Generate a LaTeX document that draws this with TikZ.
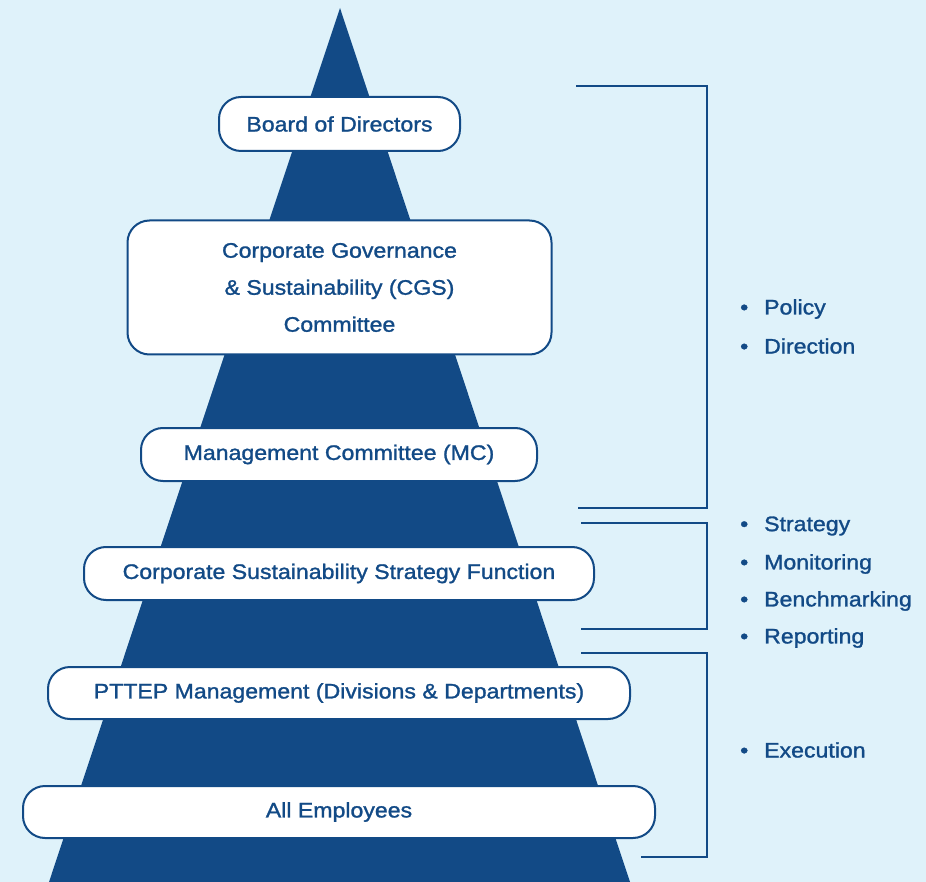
\documentclass[tikz,border=0pt]{standalone}
\usepackage{fontspec}
\setmainfont{Liberation Sans}[FakeStretch=1.1,FakeBold=1.3]
\definecolor{bg}{HTML}{DFF2FA}
\definecolor{navy}{HTML}{124A86}
\begin{document}
\begin{tikzpicture}[x=1pt,y=-1pt,
  lvl/.style={draw=navy,line width=2pt,fill=white,rounded corners=22pt,text=navy,font=\fontsize{21}{37}\selectfont,align=center,inner sep=0pt},
  brk/.style={draw=navy,line width=1.6pt},
  bul/.style={anchor=west,text=navy,font=\fontsize{21}{37}\selectfont,inner sep=0pt,align=left}]
\fill[bg] (0,0) rectangle (926,882);
\useasboundingbox (0,0) rectangle (926,882);
\fill[navy] (340,8) -- (630,882) -- (49,882) -- cycle;
\node[lvl,minimum width=241pt,minimum height=54pt] (bod) at (339.5,124) {Board of Directors};
\node[lvl,minimum width=424pt,minimum height=134pt] (cgs) at (339.5,287.5) {Corporate Governance\\\& Sustainability (CGS)\\Committee};
\node[lvl,minimum width=396pt,minimum height=53pt] (mc) at (339,454.5) {Management Committee (MC)};
\node[lvl,minimum width=510pt,minimum height=53pt] (cssf) at (339,573.5) {Corporate Sustainability Strategy Function};
\node[lvl,minimum width=582pt,minimum height=52pt] (pttep) at (339,693) {PTTEP Management (Divisions \& Departments)};
\node[lvl,minimum width=632pt,minimum height=52pt] (emp) at (339,812) {All Employees};
\draw[brk] (576,86) -- (707,86) -- (707,508) -- (578,508);
\draw[brk] (581,523) -- (707,523) -- (707,629) -- (581,629);
\draw[brk] (581,653) -- (707,653) -- (707,857) -- (641,857);
\node[bul] (pol) at (740,309) {\makebox[24pt][l]{\textbullet}Policy};
\node[bul] (dir) at (740,346) {\makebox[24pt][l]{\textbullet}Direction};
\node[bul] (str) at (740,526) {\makebox[24pt][l]{\textbullet}Strategy};
\node[bul] (mon) at (740,564) {\makebox[24pt][l]{\textbullet}Monitoring};
\node[bul] (ben) at (740,601) {\makebox[24pt][l]{\textbullet}Benchmarking};
\node[bul] (rep) at (740,638) {\makebox[24pt][l]{\textbullet}Reporting};
\node[bul] (exe) at (740,750) {\makebox[24pt][l]{\textbullet}Execution};
\end{tikzpicture}
\end{document}
